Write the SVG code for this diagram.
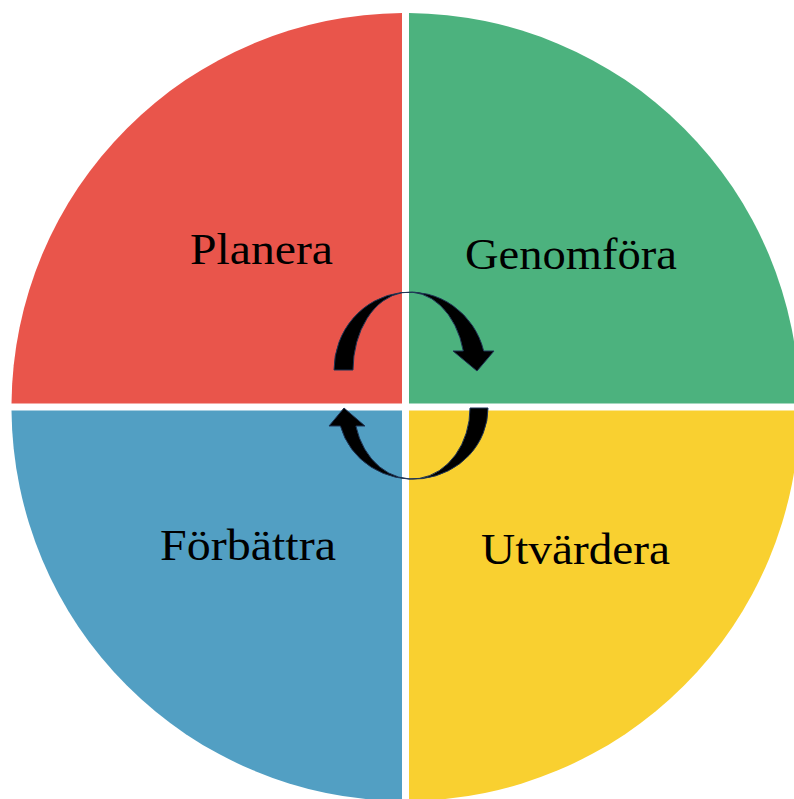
<svg xmlns="http://www.w3.org/2000/svg" width="794" height="799" viewBox="0 0 794 799">
  <style>
    .label { font-family: "Liberation Serif", "Times New Roman", serif; font-size: 44px; fill: #000000; }
    .arrow { fill: #000000; stroke: #1F3556; stroke-width: 1; stroke-linejoin: miter; }
  </style>
  <rect x="0" y="0" width="794" height="799" fill="#ffffff"/>
  <g id="planera">
    <path d="M402,403.5 L402,13 A394,394 0 0 0 11.5,403.5 Z" fill="#E9554B"/>
    <text class="label" x="190" y="264" textLength="143" lengthAdjust="spacingAndGlyphs">Planera</text>
  </g>
  <g id="genomfora">
    <path d="M409,403.5 L409,13 A394,394 0 0 1 799.5,403.5 Z" fill="#4CB27E"/>
    <text class="label" x="465" y="269" textLength="212" lengthAdjust="spacingAndGlyphs">Genomföra</text>
  </g>
  <g id="utvardera">
    <path d="M409,410.5 L799.5,410.5 A394,394 0 0 1 409,801 Z" fill="#F9D030"/>
    <text class="label" x="481" y="564" textLength="189" lengthAdjust="spacingAndGlyphs">Utvärdera</text>
  </g>
  <g id="forbattra">
    <path d="M402,410.5 L402,801 A394,394 0 0 1 11.5,410.5 Z" fill="#529FC3"/>
    <text class="label" x="160" y="560" textLength="176" lengthAdjust="spacingAndGlyphs">Förbättra</text>
  </g>
  <g id="connectors">
    <path class="arrow" d="M334,370 A76,78 0 0 1 483.7,351 L494,351 L477,371 L453,351 L463.3,351 A56,78 0 0 0 353,370 Z"/>
    <path class="arrow" d="M488,408 A75,71 0 0 1 340.4,426 L329,426 L344,408 L365,426 L355.9,426 A58,71 0 0 0 470,408 Z"/>
  </g>
</svg>
